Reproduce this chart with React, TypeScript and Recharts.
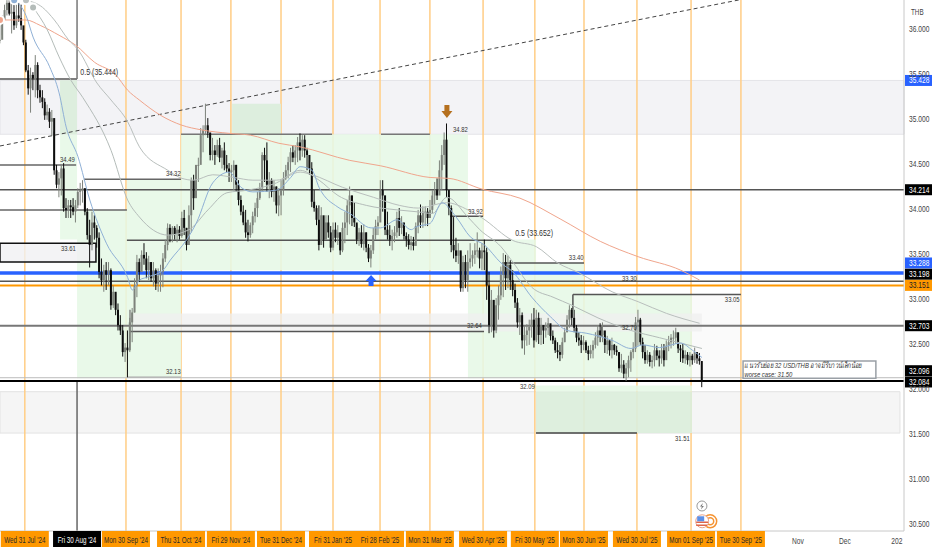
import React from "react";
import {
  ComposedChart,
  Bar,
  Line,
  XAxis,
  YAxis,
  ReferenceArea,
  ReferenceLine,
  ReferenceDot,
} from "recharts";

// daily USD/THB (10 bars per row)
const highs = [
  36.04, 36.15, 36.27, 36.32, 36.32, 36.29, 36.29, 36.27, 36.29, 36.27,
  36.01, 35.88, 35.6, 35.57, 35.52, 35.71, 35.63, 35.38, 35.32, 35.23,
  35.16, 35.12, 35.1, 34.86, 34.49, 34.41, 34.49, 34.51, 34.12, 34.1,
  34.1, 34.12, 34.1, 34.23, 34.29, 34.32, 34.23, 34.01, 33.88, 33.97,
  33.93, 33.82, 33.74, 33.45, 33.38, 33.41, 33.41, 33.34, 33.15, 33.07,
  32.95, 32.82, 32.71, 32.51, 32.65, 32.79, 32.9, 33.23, 33.49, 33.45,
  33.54, 33.62, 33.52, 33.48, 33.41, 33.41, 33.34, 33.34, 33.38, 33.51,
  33.66, 33.84, 33.83, 33.81, 33.81, 33.83, 33.81, 33.97, 33.99, 33.79,
  34.04, 34.35, 34.38, 34.43, 34.57, 34.9, 34.93, 35.17, 35.01, 34.84,
  34.79, 34.71, 34.77, 34.79, 34.68, 34.74, 34.6, 34.51, 34.49, 34.54,
  34.49, 34.32, 34.15, 34.04, 33.99, 33.88, 33.85, 33.97, 34.07, 34.19,
  34.29, 34.63, 34.68, 34.74, 34.41, 34.34, 34.32, 34.25, 34.23, 34.32,
  34.41, 34.49, 34.58, 34.68, 34.71, 34.71, 34.8, 34.84, 34.82, 34.82,
  34.68, 34.54, 34.52, 34.21, 34.04, 34.04, 34.02, 33.85, 33.93, 33.93,
  33.81, 33.85, 33.85, 33.82, 33.74, 33.85, 33.97, 34.1, 34.25, 34.15,
  34.07, 33.83, 33.79, 33.82, 33.83, 33.74, 33.61, 33.6, 33.79, 33.88,
  33.92, 34.32, 34.32, 34.15, 33.97, 33.82, 33.77, 33.81, 33.97, 34.01,
  33.92, 33.83, 33.74, 33.72, 33.7, 33.69, 33.85, 33.99, 34.05, 34.03,
  34.03, 34.01, 34.1, 34.21, 34.3, 34.34, 34.54, 34.71, 34.85, 34.95,
  34.15, 34.04, 33.91, 33.68, 33.62, 33.52, 33.48, 33.49, 33.54, 33.62,
  33.54, 33.62, 33.74, 33.57, 33.62, 33.66, 33.57, 33.3, 33.1, 32.93,
  33.01, 33.15, 33.36, 33.51, 33.49, 33.48, 33.43, 33.32, 33.17, 33.01,
  32.9, 32.85, 32.7, 32.72, 32.77, 32.84, 32.9, 32.88, 32.85, 32.79,
  32.7, 32.74, 32.79, 32.72, 32.65, 32.57, 32.52, 32.49, 32.57, 32.68,
  32.82, 32.93, 32.9, 32.88, 32.71, 32.63, 32.6, 32.59, 32.54, 32.48,
  32.49, 32.54, 32.63, 32.71, 32.73, 32.74, 32.6, 32.59, 32.54, 32.57,
  32.5, 32.48, 32.41, 32.39, 32.32, 32.29, 32.37, 32.43, 32.52, 32.8,
  32.88, 32.79, 32.57, 32.49, 32.43, 32.41, 32.37, 32.5, 32.48, 32.43,
  32.5, 32.5, 32.54, 32.59, 32.61, 32.65, 32.68, 32.59, 32.49, 32.5,
  32.43, 32.41, 32.41, 32.39, 32.46, 32.41, 32.4, 32.31,
];
const lows = [
  35.84, 35.93, 36.12, 36.15, 36.15, 35.95, 35.99, 36.01, 36.08, 35.99,
  35.82, 35.52, 35.27, 35.07, 35.32, 35.24, 35.23, 35.18, 35.12, 34.99,
  34.99, 34.9, 34.81, 34.38, 34.23, 34.13, 34.15, 33.97, 33.9, 33.9,
  33.9, 33.93, 33.85, 34.01, 34.04, 34.07, 33.93, 33.66, 33.35, 33.54,
  33.66, 33.57, 33.23, 33.15, 33.08, 33.1, 33.15, 32.88, 32.9, 32.82,
  32.65, 32.6, 32.36, 32.3, 32.13, 32.41, 32.52, 32.85, 33.02, 33.19,
  33.34, 33.38, 33.23, 33.21, 33.19, 33.14, 33.1, 33.08, 33.08, 33.13,
  33.41, 33.54, 33.63, 33.63, 33.66, 33.63, 33.66, 33.68, 33.71, 33.54,
  33.66, 33.74, 33.99, 34.15, 34.3, 34.57, 34.63, 34.82, 34.79, 34.54,
  34.54, 34.49, 34.58, 34.52, 34.45, 34.43, 34.41, 34.3, 34.3, 34.21,
  34.19, 34.04, 33.93, 33.82, 33.68, 33.64, 33.68, 33.73, 33.85, 33.91,
  34.1, 34.19, 34.3, 34.19, 34.12, 34.13, 34.08, 33.95, 33.92, 33.93,
  34.15, 34.32, 34.34, 34.41, 34.52, 34.49, 34.52, 34.54, 34.58, 34.57,
  34.43, 34.38, 34.02, 33.97, 33.82, 33.54, 33.6, 33.57, 33.66, 33.68,
  33.52, 33.54, 33.63, 33.6, 33.49, 33.52, 33.62, 33.71, 33.83, 33.81,
  33.8, 33.61, 33.59, 33.57, 33.54, 33.52, 33.41, 33.35, 33.5, 33.66,
  33.71, 33.9, 33.97, 33.71, 33.66, 33.59, 33.54, 33.63, 33.68, 33.7,
  33.72, 33.66, 33.58, 33.55, 33.54, 33.54, 33.69, 33.73, 33.79, 33.79,
  33.81, 33.81, 33.9, 33.95, 34.05, 34.1, 34.19, 34.21, 34.49, 34.13,
  33.93, 33.52, 33.45, 33.41, 33.39, 33.08, 33.08, 33.12, 33.08, 33.34,
  33.36, 33.39, 33.46, 33.34, 33.32, 33.32, 32.99, 32.62, 32.63, 32.57,
  32.62, 32.77, 32.99, 33.02, 33.1, 33.12, 33.1, 33.03, 32.9, 32.68,
  32.6, 32.45, 32.38, 32.48, 32.49, 32.57, 32.46, 32.52, 32.5, 32.49,
  32.5, 32.57, 32.6, 32.54, 32.5, 32.4, 32.34, 32.31, 32.34, 32.52,
  32.63, 32.68, 32.71, 32.63, 32.52, 32.48, 32.4, 32.43, 32.4, 32.32,
  32.34, 32.34, 32.45, 32.48, 32.52, 32.52, 32.4, 32.39, 32.37, 32.34,
  32.38, 32.37, 32.19, 32.18, 32.12, 32.09, 32.13, 32.19, 32.34, 32.41,
  32.48, 32.49, 32.34, 32.28, 32.28, 32.25, 32.23, 32.25, 32.32, 32.25,
  32.28, 32.25, 32.34, 32.42, 32.45, 32.48, 32.5, 32.4, 32.3, 32.29,
  32.28, 32.27, 32.25, 32.27, 32.29, 32.28, 32.27, 32.02,
];
const closes = [
  35.88, 36.1, 36.21, 36.29, 36.17, 36.19, 36.04, 36.15, 36.12, 36.04,
  35.85, 35.54, 35.34, 35.49, 35.45, 35.6, 35.32, 35.24, 35.19, 35.04,
  35.08, 34.97, 35.01, 34.43, 34.27, 34.34, 34.45, 34.01, 33.99, 34.04,
  34.02, 33.97, 34.04, 34.19, 34.21, 34.23, 33.97, 33.71, 33.6, 33.85,
  33.79, 33.68, 33.3, 33.21, 33.32, 33.27, 33.32, 32.93, 33.08, 32.88,
  32.71, 32.65, 32.41, 32.46, 32.43, 32.74, 32.85, 33.15, 33.41, 33.3,
  33.49, 33.45, 33.32, 33.41, 33.23, 33.32, 33.17, 33.26, 33.3, 33.45,
  33.6, 33.79, 33.71, 33.79, 33.72, 33.77, 33.7, 33.9, 33.79, 33.6,
  33.93, 34.32, 34.12, 34.49, 34.49, 34.82, 34.88, 34.93, 34.85, 34.6,
  34.65, 34.6, 34.71, 34.57, 34.65, 34.49, 34.45, 34.41, 34.43, 34.49,
  34.27, 34.1, 33.97, 33.85, 33.74, 33.71, 33.82, 33.92, 34.01, 34.12,
  34.23, 34.6, 34.54, 34.27, 34.32, 34.19, 34.25, 34.04, 34.15, 34.21,
  34.34, 34.43, 34.52, 34.63, 34.57, 34.65, 34.74, 34.65, 34.77, 34.65,
  34.6, 34.45, 34.08, 34.01, 33.88, 33.6, 33.93, 33.66, 33.85, 33.74,
  33.57, 33.77, 33.68, 33.74, 33.54, 33.79, 33.85, 34.04, 34.15, 33.9,
  33.85, 33.66, 33.74, 33.61, 33.74, 33.57, 33.45, 33.54, 33.71, 33.81,
  33.85, 34.21, 34.15, 33.77, 33.71, 33.66, 33.7, 33.74, 33.9, 33.79,
  33.85, 33.7, 33.66, 33.6, 33.63, 33.59, 33.81, 33.93, 33.85, 33.97,
  33.97, 33.9, 33.99, 34.15, 34.21, 34.15, 34.43, 34.6, 34.77, 34.21,
  34.01, 33.6, 33.54, 33.48, 33.54, 33.12, 33.41, 33.21, 33.41, 33.45,
  33.49, 33.54, 33.54, 33.45, 33.54, 33.52, 33.15, 32.71, 32.99, 32.65,
  32.93, 33.04, 33.27, 33.41, 33.23, 33.38, 33.21, 33.1, 32.96, 32.74,
  32.82, 32.54, 32.6, 32.65, 32.69, 32.77, 32.54, 32.79, 32.6, 32.71,
  32.65, 32.68, 32.73, 32.59, 32.54, 32.43, 32.41, 32.38, 32.52, 32.63,
  32.77, 32.88, 32.79, 32.68, 32.57, 32.54, 32.49, 32.52, 32.43, 32.39,
  32.43, 32.49, 32.57, 32.65, 32.6, 32.65, 32.49, 32.54, 32.43, 32.49,
  32.43, 32.41, 32.23, 32.27, 32.17, 32.23, 32.32, 32.41, 32.45, 32.74,
  32.77, 32.52, 32.41, 32.32, 32.38, 32.3, 32.32, 32.43, 32.37, 32.34,
  32.43, 32.32, 32.48, 32.52, 32.57, 32.57, 32.63, 32.45, 32.43, 32.34,
  32.38, 32.32, 32.37, 32.32, 32.41, 32.34, 32.31, 32.08,
];

const blueBars = [6, 11, 14, 21, 25, 28, 33, 38, 45, 54, 56, 59, 62, 69, 72, 79, 83, 90, 97, 102, 107, 117, 123, 127, 132, 135, 143, 148, 157, 161, 168, 174, 176, 182, 187, 193, 199, 205, 212, 217, 225, 233, 240, 248, 259, 267, 272, 279, 288, 293, 297];
const blueValues = [36.32, 36.15, 35.91, 35.58, 35.29, 34.91, 34.58, 34.1, 33.62, 33.24, 33.1, 33.21, 33.24, 33.32, 33.43, 33.66, 33.84, 34.29, 34.41, 34.24, 34.19, 34.21, 34.35, 34.47, 34.43, 34.24, 34.02, 33.95, 33.79, 33.79, 33.88, 33.77, 33.8, 33.84, 34.07, 33.91, 33.69, 33.6, 33.4, 33.3, 33.02, 32.8, 32.65, 32.62, 32.54, 32.45, 32.49, 32.46, 32.51, 32.43, 32.35];
const midBars = [14, 20, 25, 30, 35, 47, 54, 59, 71, 80, 88, 96, 105, 117, 127, 135, 143, 155, 168, 176, 183, 189, 198, 203, 212, 217, 225, 234, 242, 253, 267, 279, 297];
const midValues = [36.24, 35.99, 35.69, 35.43, 35.24, 34.65, 34.1, 33.91, 33.71, 33.77, 33.99, 34.18, 34.21, 34.29, 34.43, 34.32, 34.15, 34.04, 33.99, 33.97, 33.95, 34.13, 33.91, 33.77, 33.58, 33.41, 33.13, 33.02, 32.93, 32.79, 32.65, 32.57, 32.45];
const slowBars = [11, 18, 23, 29, 33, 41, 47, 54, 59, 71, 77, 82, 90, 99, 107, 117, 127, 132, 145, 158, 169, 177, 189, 198, 204, 217, 227, 236, 245, 259, 270, 282, 296];
const slowValues = [36.32, 36.24, 36.1, 35.88, 35.77, 35.4, 35.21, 34.97, 34.69, 34.43, 34.34, 34.32, 34.38, 34.35, 34.32, 34.32, 34.41, 34.38, 34.24, 34.13, 34.04, 34.01, 34.07, 33.99, 33.9, 33.65, 33.58, 33.4, 33.29, 33.08, 32.97, 32.84, 32.73];
const longBars = [0, 11, 17, 25, 32, 40, 49, 54, 59, 68, 77, 85, 97, 106, 118, 127, 148, 161, 182, 190, 204, 220, 237, 254, 270, 288, 296];
const longValues = [36.1, 36.1, 36.04, 35.93, 35.82, 35.63, 35.49, 35.32, 35.21, 35.04, 34.93, 34.88, 34.84, 34.82, 34.73, 34.69, 34.54, 34.48, 34.35, 34.34, 34.22, 34.12, 33.89, 33.64, 33.47, 33.32, 33.21];

const tickBars = [10.5, 32.6, 53.3, 76.6, 97.7, 118.9, 140.9, 160.8, 181.9, 204.4, 226.3, 247.1, 269.5, 292.4, 313.5, 337.6, 357.5, 379.5];
const tickLabels = ["Wed 31 Jul '24", "Fri 30 Aug '24", "Mon 30 Sep '24", "Thu 31 Oct '24", "Fri 29 Nov '24", "Tue 31 Dec '24", "Fri 31 Jan '25", "Fri 28 Feb '25", "Mon 31 Mar '25", "Wed 30 Apr '25", "Fri 30 May '25", "Mon 30 Jun '25", "Wed 30 Jul '25", "Mon 01 Sep '25", "Tue 30 Sep '25", "Nov", "Dec", "202"];
const priceTicks = [36, 35.5, 35, 34.5, 34, 33.5, 33, 32.5, 32, 31.5, 31, 30.5];

const LAST_BAR_AXIS = 382.5;
const MIN_PRICE = 30.422;
const MAX_PRICE = 36.322;

const candles = closes.map((close, i) => ({
  bar: i,
  open: i === 0 ? close : closes[i - 1],
  close,
  high: highs[i],
  low: lows[i],
  range: [lows[i], highs[i]],
}));

const zip = (bars: number[], values: number[]) => bars.map((bar, i) => ({ bar, v: values[i] }));
const blueLine = zip(blueBars, blueValues);
const midLine = zip(midBars, midValues);
const slowLine = zip(slowBars, slowValues);
const longLine = zip(longBars, longValues);

// x1, x2, price bottom, price top
const greenZones = [
  [25.4, 32.6, 33.66, 34.83],
  [32.6, 53.7, 32.12, 33.99],
  [53.7, 76.6, 32.12, 34.33],
  [76.6, 198, 33.32, 34.83],
  [198, 204.8, 32.12, 33.92],
  [204.8, 226.8, 32.12, 33.66],
  [226.8, 247.1, 32.12, 33.4],
  [247.1, 292.8, 32.12, 33.05],
  [226.8, 292.8, 31.97, 32.04],
];
const darkGreenZones = [
  [25.4, 32.6, 34.83, 35.43],
  [98.2, 118.9, 34.83, 35.17],
  [226.8, 292.8, 31.51, 31.97],
];
// x1, x2, price, width, colour
const segments: [number, number, number, number, string][] = [
  [0, 32.6, 35.444, 1.5, "#555"],
  [0, 32.2, 34.49, 1.5, "#666"],
  [35.5, 76.6, 34.33, 1.5, "#666"],
  [0, 53.7, 33.99, 1.5, "#666"],
  [53.7, 216.2, 33.652, 1.5, "#555"],
  [76.6, 140.5, 34.83, 1.5, "#777"],
  [161.2, 181.9, 34.83, 1.5, "#777"],
  [190.4, 204.4, 33.92, 1.5, "#555"],
  [212.8, 247.1, 33.4, 1.5, "#555"],
  [242.4, 313.5, 33.05, 1.5, "#555"],
  [254.7, 269.5, 32.7, 1.5, "#444"],
  [55, 204.8, 32.64, 1.5, "#555"],
  [53.7, 76.6, 32.13, 1.5, "#aaa"],
  [226.8, 269.5, 31.51, 1.5, "#444"],
];
// bar, from price, to price, colour
const uprights: [number, number, number, string][] = [
  [32.6, 35.444, MAX_PRICE, "#777"],
  [32.6, MIN_PRICE, 32.09, "#666"],
  [242.4, 32.88, 33.05, "#555"],
  [254.7, 32.58, 32.7, "#444"],
  [55, 32.64, 32.88, "#888"],
];
const fullLines: [number, number, string][] = [
  [34.214, 1.5, "#555"],
  [33.288, 3.5, "#2962ff"],
  [33.198, 1.5, "#555"],
  [33.151, 2, "#ff9800"],
  [32.703, 2, "#777"],
  [32.125, 1, "#bbb"],
  [32.09, 2, "#000"],
];
const monthBars = [10.5, 53.3, 76.6, 97.7, 118.9, 140.9, 160.8, 181.9, 204.4, 226.3, 247.1, 269.5, 292.4, 313.5];
// text, bar, price, size
const notes: [string, number, number, number][] = [
  ["0.5 (35.444)", 34, 35.53, 9.5],
  ["34.49", 25.4, 34.555, 8],
  ["33.61", 25.8, 33.57, 8],
  ["34.32", 70.2, 34.4, 8],
  ["32.13", 70.2, 32.2, 8],
  ["34.82", 191.7, 34.89, 8],
  ["33.92", 198, 33.98, 8],
  ["0.5 (33.652)", 218, 33.74, 9.5],
  ["33.40", 240.7, 33.46, 8],
  ["33.30", 263.2, 33.23, 8],
  ["33.05", 306.7, 33, 8],
  ["32.70", 263.2, 32.69, 8],
  ["32.64", 197.6, 32.71, 8],
  ["32.09", 220, 32.03, 8],
  ["31.51", 285.6, 31.45, 8],
];
// text, tag position, colour
const priceTags: [string, number, string, string][] = [
  ["35.428", 35.428, "#2962ff", "#fff"],
  ["34.214", 34.214, "#000", "#fff"],
  ["33.288", 33.4, "#2962ff", "#fff"],
  ["33.198", 33.275, "#000", "#fff"],
  ["33.151", 33.151, "#ff9800", "#222"],
  ["32.703", 32.703, "#000", "#fff"],
  ["32.096", 32.203, "#000", "#fff"],
  ["32.084", 32.078, "#000", "#fff"],
];

const FONT = "'Liberation Sans', sans-serif";

const Squished = ({ x, y, text, size = 8, fill = "#333", anchor = "start", italic = false }: any) => (
  <g transform={`translate(${x},${y}) scale(0.74,1)`}>
    <text x={0} y={0} fontFamily={FONT} fontSize={size} fill={fill} textAnchor={anchor} dominantBaseline="central" fontStyle={italic ? "italic" : "normal"}>
      {text}
    </text>
  </g>
);

const Candle = (props: any) => {
  const { x, y, width, height, payload } = props;
  const { open, close, high, low } = payload;
  const perUnit = height / (high - low || 0.01);
  const up = close >= open;
  const colour = up ? "#7d827b" : "#0d0d0d";
  const cx = x + width / 2;
  const top = y + (high - Math.max(open, close)) * perUnit;
  const h = Math.max(Math.abs(open - close) * perUnit, 1);
  return (
    <g>
      <line x1={cx} x2={cx} y1={y} y2={y + height} stroke={colour} strokeWidth={1} />
      <rect x={cx - 1} y={top} width={2} height={h} fill={colour} />
    </g>
  );
};

const TimeTick = (props: any) => {
  const { x, index } = props;
  const label = tickLabels[index];
  if (index >= 15) {
    return <Squished x={x} y={541} text={label} size={9} fill="#444" anchor="middle" />;
  }
  const black = index === 1;
  return (
    <g>
      <rect x={x - 24} y={531} width={48} height={16} fill={black ? "#000" : "#ff9800"} />
      <Squished x={x} y={540.5} text={label} size={8.5} fill={black ? "#fff" : "#2a2a2a"} anchor="middle" />
    </g>
  );
};

const PriceTick = (props: any) => {
  const { y, payload } = props;
  return <Squished x={909} y={y} text={payload.value.toFixed(3)} size={9} fill="#444" />;
};

const downArrow = (p: any) => (
  <path
    d={`M${p.cx - 2.5} ${p.cy - 6}h5v6h3l-5.5 7-5.5-7h3z`}
    fill="#b5701f"
  />
);
const upArrow = (p: any) => (
  <path
    d={`M${p.cx - 2.5} ${p.cy + 5}h5v-5h3l-5.5-6-5.5 6h3z`}
    fill="#2962ff"
  />
);
const boltIcon = (p: any) => (
  <g>
    <circle cx={p.cx} cy={p.cy} r={5} fill="#fff" stroke="#999" />
    <path d={`M${p.cx + 1} ${p.cy - 3}l-3 3.5h2l-1 3 3-3.5h-2z`} fill="#777" />
  </g>
);
const flagIcon = (p: any) => (
  <g>
    <circle cx={p.cx + 4} cy={p.cy} r={6.5} fill="#fff" stroke="#f59331" strokeWidth={1.5} />
    <circle cx={p.cx + 4} cy={p.cy} r={3.5} fill="#fff" stroke="#f59331" strokeWidth={1.5} />
    <circle cx={p.cx - 4} cy={p.cy} r={6.5} fill="#fff" stroke="#e9a38c" />
    <path d={`M${p.cx - 10} ${p.cy + 1}h12M${p.cx - 10} ${p.cy + 4}h11`} stroke="#e0664a" strokeWidth={1.5} />
    <rect x={p.cx - 9} y={p.cy - 5} width={7} height={5} fill="#5b8fe8" />
  </g>
);

export default function App() {
  return (
    <div style={{ position: "absolute", left: 0, top: 0, background: "#fff" }}>
      <ComposedChart
        width={932}
        height={550}
        data={candles}
        margin={{ top: 0, right: 0, bottom: 0, left: 0 }}
      >
        <XAxis
          dataKey="bar"
          type="number"
          domain={[0, LAST_BAR_AXIS]}
          allowDataOverflow
          ticks={tickBars}
          interval={0}
          height={19}
          tickLine={false}
          axisLine={{ stroke: "#c8c8c8" }}
          tick={<TimeTick />}
        />
        <YAxis
          orientation="right"
          type="number"
          domain={[MIN_PRICE, MAX_PRICE]}
          allowDataOverflow
          ticks={priceTicks}
          interval={0}
          width={28}
          tickLine={false}
          axisLine={{ stroke: "#c8c8c8" }}
          tick={<PriceTick />}
        />

        <ReferenceArea zIndex={10} x1={0} x2={LAST_BAR_AXIS} y1={34.83} y2={35.428} fill="#f3f3f6" fillOpacity={1} stroke="#e4e4e8" />
        <ReferenceArea zIndex={10} x1={0} x2={380.8} y1={31.51} y2={31.97} fill="#f5f5f5" fillOpacity={1} stroke="#e3e3e3" />
        <ReferenceArea zIndex={10} x1={292.8} x2={313.5} y1={32.09} y2={33.05} fill="#fafafa" fillOpacity={1} stroke="none" />

        {monthBars.map((b) => (
          <ReferenceLine zIndex={20} key={b} x={b} stroke="#ffcd85" strokeWidth={1.5} />
        ))}

        {greenZones.map(([x1, x2, y1, y2], i) => (
          <ReferenceArea zIndex={30} key={i} x1={x1} x2={x2} y1={y1} y2={y2} fill="#e6f8e6" fillOpacity={0.88} stroke="none" />
        ))}
        {darkGreenZones.map(([x1, x2, y1, y2], i) => (
          <ReferenceArea zIndex={30} key={i} x1={x1} x2={x2} y1={y1} y2={y2} fill="#dbeedb" fillOpacity={0.92} stroke="none" />
        ))}
        <ReferenceArea zIndex={40} x1={56.3} x2={297} y1={32.64} y2={32.84} fill="#efefef" fillOpacity={0.75} stroke="none" />
        <ReferenceArea zIndex={40} x1={0} x2={40.6} y1={33.41} y2={33.62} fill="#f0f0f2" fillOpacity={0.8} stroke="#111" strokeWidth={1.5} />

        <ReferenceLine
          zIndex={50}
          segment={[
            { x: 0, y: 34.7 },
            { x: 316, y: 36.34 },
          ]}
          stroke="#444"
          strokeDasharray="4 3"
          ifOverflow="hidden"
        />

        {segments.map(([x1, x2, y, w, c], i) => (
          <ReferenceLine zIndex={60} key={i} segment={[{ x: x1, y }, { x: x2, y }]} stroke={c} strokeWidth={w} />
        ))}
        {uprights.map(([x, y1, y2, c], i) => (
          <ReferenceLine zIndex={60} key={i} segment={[{ x, y: y1 }, { x, y: y2 }]} stroke={c} strokeWidth={1.5} />
        ))}
        {fullLines.map(([y, w, c]) => (
          <ReferenceLine zIndex={70} key={y} y={y} stroke={c} strokeWidth={w} />
        ))}

        <Bar dataKey="range" barSize={2} shape={<Candle />} isAnimationActive={false} />

        <Line data={longLine} dataKey="v" type="monotone" stroke="#f0a58c" strokeWidth={1} dot={false} isAnimationActive={false} />
        <Line data={slowLine} dataKey="v" type="monotone" stroke="#b9bfbd" strokeWidth={1} dot={false} isAnimationActive={false} />
        <Line data={midLine} dataKey="v" type="monotone" stroke="#b4bcb9" strokeWidth={1} dot={false} isAnimationActive={false} />
        <Line data={blueLine} dataKey="v" type="monotone" stroke="#8fb0d6" strokeWidth={1} dot={false} isAnimationActive={false} />

        {notes.map(([text, x, y, size]) => (
          <ReferenceDot
            key={text + x}
            x={x}
            y={y}
            r={0}
            ifOverflow="visible"
            shape={(p: any) => <Squished x={p.cx} y={p.cy} text={text} size={size} />}
          />
        ))}

        <ReferenceDot x={189.1} y={35.09} r={0} shape={downArrow} />
        <ReferenceDot x={157} y={33.2} r={0} shape={upArrow} />
        <ReferenceDot x={297} y={30.7} r={0} shape={boltIcon} />
        <ReferenceDot x={298.8} y={30.53} r={0} shape={flagIcon} />

        <ReferenceArea zIndex={500} x1={314.4} x2={370.6} y1={32.12} y2={32.31} fill="#fff" fillOpacity={1} stroke="#9aa0a6" strokeWidth={1.5} />
        <ReferenceDot
          x={315}
          y={32.265}
          r={0}
          shape={(p: any) => <Squished x={p.cx} y={p.cy} text="แนวรับย่อย 32 USD/THB อาจมีรีบาวน์เล็กน้อย" size={8} italic />}
        />
        <ReferenceDot
          x={315}
          y={32.165}
          r={0}
          shape={(p: any) => <Squished x={p.cx} y={p.cy} text="worse case: 31.50" size={8} italic />}
        />

        {priceTags.map(([text, y, bg, fg]) => (
          <ReferenceDot
            key={text}
            x={LAST_BAR_AXIS}
            y={y}
            r={0}
            ifOverflow="visible"
            shape={(p: any) => (
              <g>
                <rect x={p.cx + 1} y={p.cy - 5.5} width={27} height={11} fill={bg} />
                <Squished x={p.cx + 5} y={p.cy} text={text} size={9} fill={fg} />
              </g>
            )}
          />
        ))}
        <ReferenceDot
          x={LAST_BAR_AXIS}
          y={36.19}
          r={0}
          ifOverflow="visible"
          shape={(p: any) => <Squished x={p.cx + 7} y={p.cy} text="THB" size={8.5} fill="#444" />}
        />
      </ComposedChart>
    </div>
  );
}
